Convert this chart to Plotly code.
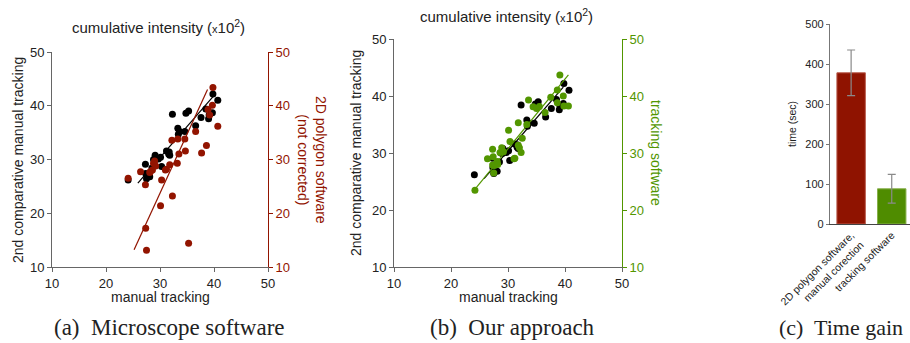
import plotly.graph_objects as go

# ---------------- data ----------------
manual_x = [24.1, 27.3, 27.35, 27.5, 28.1, 28.5, 29.0, 29.1, 29.7, 30.1, 30.3, 31.2, 31.7, 31.8, 32.3, 33.3,
            33.4, 33.6, 34.6, 34.8, 35.3, 36.6, 37.6, 38.5, 39.0, 39.1, 39.7, 39.8, 40.7, 28.8, 31.6]
manual2_y = [26.2, 29.1, 27.4, 26.4, 26.8, 28.4, 29.9, 30.8, 30.1, 30.4, 28.7, 31.6, 31.4, 30.8, 38.4, 35.8,
             34.7, 35.2, 35.2, 38.6, 39.0, 36.3, 37.8, 39.4, 37.6, 38.3, 38.7, 42.2, 41.0, 30.0, 31.0]

poly_x = [24.1, 26.4, 27.3, 27.35, 27.5, 28.1, 28.6, 28.2, 28.8, 29.2, 29.0, 30.1, 30.3, 31.0, 31.2, 31.8,
          32.2, 32.3, 33.2, 33.3, 33.5, 34.6, 34.7, 35.3, 36.6, 37.7, 38.6, 38.9, 39.2, 39.7, 39.8, 40.7]
poly_y = [26.5, 27.7, 25.3, 17.2, 13.1, 27.6, 28.05, 27.7, 29.3, 28.8, 29.7, 21.4, 26.2, 28.05, 28.2, 29.0,
          33.6, 23.2, 29.3, 33.8, 31.0, 33.8, 31.6, 14.4, 35.2, 31.2, 32.6, 39.3, 38.3, 40.1, 43.4, 36.2]

track_x = [24.2, 26.4, 27.3, 27.3, 27.5, 27.6, 28.1, 28.2, 28.9, 28.6, 29.2, 30.1, 30.35, 31.05, 31.8, 31.8,
           32.0, 32.3, 32.5, 33.3, 33.6, 34.4, 35.0, 35.5, 36.5, 37.5, 38.65, 38.65, 39.1, 39.7, 39.8, 40.6,
           27.4, 31.2]
track_y = [23.45, 29.0, 30.65, 27.9, 26.5, 27.8, 28.5, 28.0, 30.9, 30.1, 30.2, 34.0, 32.0, 29.0, 35.3, 31.35,
           30.9, 30.1, 32.6, 35.0, 39.3, 38.1, 37.8, 38.15, 37.1, 39.8, 41.05, 38.8, 43.7, 40.0, 38.25, 38.25,
           29.35, 29.1]

fit_black_x = [25.9, 39.9]
fit_black_y = [25.6, 41.8]
fit_red_x = [25.2, 38.8]
fit_red_y = [13.2, 43.0]
fit_black_b_x = [25.8, 39.7]
fit_black_b_y = [25.5, 41.55]
fit_green_x = [24.0, 40.6]
fit_green_y = [23.4, 43.7]

axis_ticks = [10, 20, 30, 40, 50]

time_categories = ["2D polygon software,<br>manual corection", "tracking software"]
time_values = [378, 88]
time_err = [57, 36]
time_ticks = [0, 100, 200, 300, 400, 500]

# ---------------- styles ----------------
RED = "#921400"
GREEN = "#529600"
BAR_RED = "#8f1300"
BAR_GREEN = "#4f8c00"
AX = "#666666"
TXT = "#222222"
SANS = "Liberation Sans, Arial, sans-serif"
W, H = 910, 343


def px(x):
    return x / W


def py(y):
    return 1 - y / H


fig = go.Figure()

# panel a
fig.add_trace(go.Scatter(x=manual_x, y=manual2_y, mode="markers", marker=dict(color="black", size=7),
                         xaxis="x", yaxis="y", showlegend=False))
fig.add_trace(go.Scatter(x=poly_x, y=poly_y, mode="markers", marker=dict(color=RED, size=7),
                         xaxis="x", yaxis="y2", showlegend=False))
fig.add_trace(go.Scatter(x=fit_black_x, y=fit_black_y, mode="lines", line=dict(color="black", width=1.2),
                         xaxis="x", yaxis="y", showlegend=False))
fig.add_trace(go.Scatter(x=fit_red_x, y=fit_red_y, mode="lines", line=dict(color=RED, width=1.2),
                         xaxis="x", yaxis="y2", showlegend=False))

# panel b
fig.add_trace(go.Scatter(x=manual_x, y=manual2_y, mode="markers", marker=dict(color="black", size=7),
                         xaxis="x3", yaxis="y3", showlegend=False))
fig.add_trace(go.Scatter(x=track_x, y=track_y, mode="markers", marker=dict(color=GREEN, size=7),
                         xaxis="x3", yaxis="y4", showlegend=False))
fig.add_trace(go.Scatter(x=fit_black_b_x, y=fit_black_b_y, mode="lines", line=dict(color="black", width=1.2),
                         xaxis="x3", yaxis="y3", showlegend=False))
fig.add_trace(go.Scatter(x=fit_green_x, y=fit_green_y, mode="lines", line=dict(color=GREEN, width=1.2),
                         xaxis="x3", yaxis="y4", showlegend=False))

# panel c
fig.add_trace(go.Bar(x=time_categories, y=time_values, width=0.7,
                     marker=dict(color=[BAR_RED, BAR_GREEN], line=dict(color=["#b85a4a", "#86b04a"], width=1)),
                     error_y=dict(type="data", array=time_err, color="#8a8a8a", thickness=1.2, width=4),
                     xaxis="x5", yaxis="y5", showlegend=False))


def lin_axis(domain, color=AX, tickcolor=TXT, side=None, anchor=None, overlaying=None, showline=True):
    d = dict(domain=domain, range=[10, 50], tickvals=axis_ticks, showgrid=False, zeroline=False,
             showline=showline, linecolor=color, linewidth=1, ticks="outside", ticklen=4, tickcolor=color,
             automargin=False, tickfont=dict(family=SANS, size=13, color=tickcolor))
    if side:
        d["side"] = side
    if anchor:
        d["anchor"] = anchor
    if overlaying:
        d["overlaying"] = overlaying
    return d


ya_dom = [py(267), py(52)]
yb_dom = [py(267), py(39)]

fig.update_layout(
    width=W, height=H, margin=dict(l=0, r=0, t=0, b=0, autoexpand=False),
    plot_bgcolor="white", paper_bgcolor="white",
    xaxis=lin_axis([px(52), px(268)], anchor="y"),
    yaxis=lin_axis(ya_dom, anchor="x"),
    yaxis2=lin_axis(ya_dom, color=RED, tickcolor=RED, side="right", anchor="x", overlaying="y"),
    xaxis3=lin_axis([px(394), px(622)], anchor="y3"),
    yaxis3=lin_axis(yb_dom, anchor="x3"),
    yaxis4=lin_axis(yb_dom, color=GREEN, tickcolor=GREEN, side="right", anchor="x3", overlaying="y3"),
    xaxis5=dict(domain=[px(830), 1.0], anchor="y5", range=[-0.52, 1.45], showline=True, linecolor="#444",
                linewidth=1.2, ticks="", tickangle=-45, showgrid=False, automargin=False,
                tickfont=dict(family=SANS, size=10.5, color=TXT)),
    yaxis5=dict(domain=[py(224), py(24)], anchor="x5", range=[0, 500], tickvals=time_ticks, showgrid=False,
                zeroline=False, showline=True, linecolor="#777", linewidth=1.2, ticks="outside", ticklen=3,
                automargin=False, tickcolor="#777", tickfont=dict(family=SANS, size=11, color=TXT)),
)

ann = []


def add_text(x, y, text, size=14, color=TXT, angle=0, family=SANS, xanchor="center", yanchor="middle"):
    ann.append(dict(x=px(x), y=py(y), xref="paper", yref="paper", text=text, showarrow=False,
                    font=dict(family=family, size=size, color=color), textangle=angle,
                    xanchor=xanchor, yanchor=yanchor))


title_txt = "cumulative intensity (<span style='font-size:11px'>x</span>10<sup>2</sup>)"
add_text(158, 27, title_txt, size=15)
add_text(506, 15, title_txt, size=15)
add_text(160, 297, "manual tracking", size=14)
add_text(508, 297, "manual tracking", size=14)
add_text(18, 160, "2nd comparative manual tracking", size=14, angle=-90)
add_text(356, 153, "2nd comparative manual tracking", size=14, angle=-90)
add_text(312, 160, "2D polygon software<br>(not corrected)", size=14, color=RED, angle=90)
add_text(656, 153, "tracking software", size=14, color=GREEN, angle=90)
add_text(792, 124, "time (sec)", size=10.5, angle=-90)

SERIF = "Liberation Serif, Times New Roman, serif"
add_text(52, 327, "(a)&nbsp; Microscope software", size=23, family=SERIF, xanchor="left")
add_text(512, 327, "(b)&nbsp; Our approach", size=23, family=SERIF)
add_text(777, 327, "(c)&nbsp; Time gain", size=22, family=SERIF, xanchor="left")

fig.update_layout(annotations=ann)
fig.write_html("out.html", config={"displayModeBar": False},
               post_script="document.body.style.margin='0';document.body.style.overflow='hidden';")
